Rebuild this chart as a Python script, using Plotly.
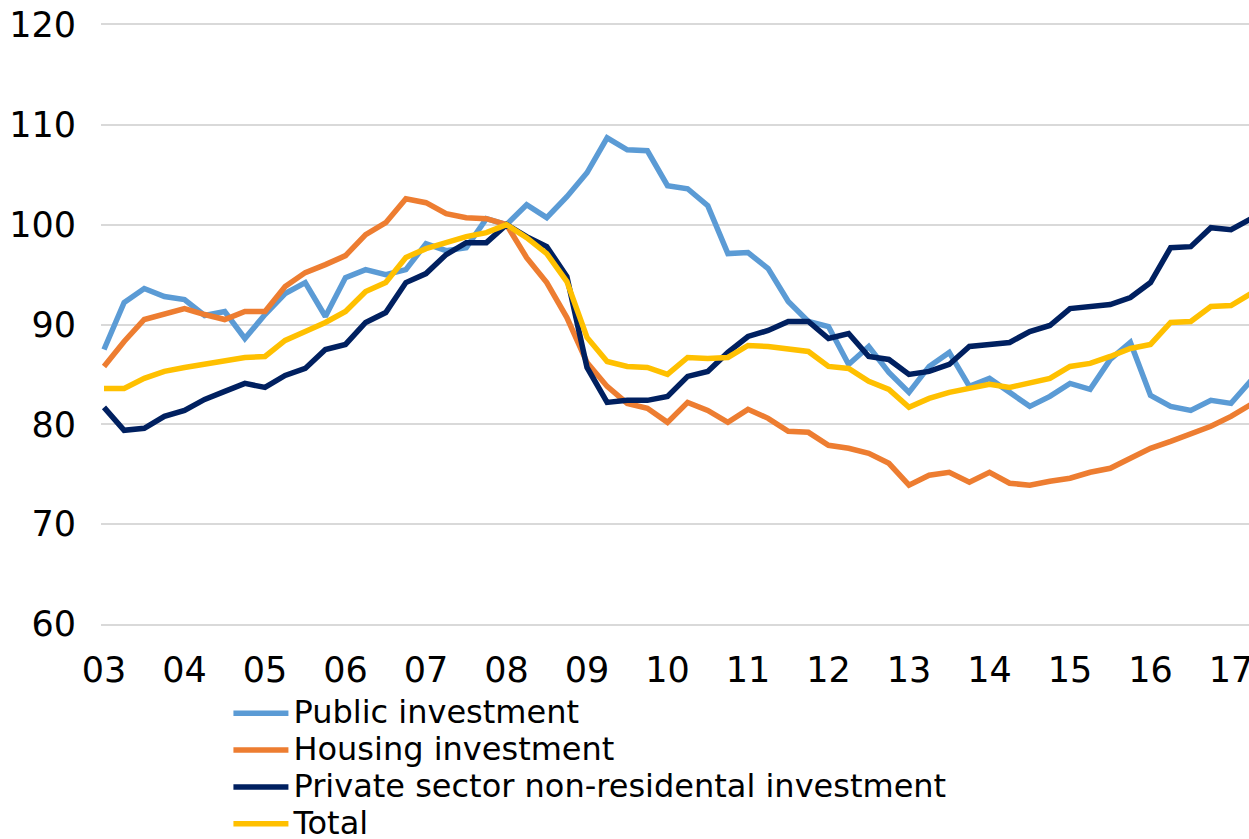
import plotly.graph_objects as go

# quarterly index, 2008Q1 = 100, from 2003Q1 to 2017Q2
years = list(range(2003, 2018))
tick_labels = ["03", "04", "05", "06", "07", "08", "09", "10", "11", "12", "13", "14", "15", "16", "17"]

public = [87.5, 92.2, 93.6, 92.8, 92.5, 90.9, 91.3, 88.6, 91.0, 93.1, 94.2, 90.8,
          94.7, 95.5, 95.0, 95.5, 98.1, 97.4, 97.7, 100.6, 100.0, 102.0, 100.7, 102.8,
          105.2, 108.7, 107.5, 107.4, 103.9, 103.6, 101.9, 97.1, 97.2, 95.6, 92.3, 90.3,
          89.8, 86.0, 87.8, 85.2, 83.2, 85.8, 87.2, 83.8, 84.6, 83.2, 81.8, 82.8,
          84.1, 83.5, 86.5, 88.2, 82.9, 81.8, 81.4, 82.4, 82.1, 84.4]

housing = [85.8, 88.3, 90.5, 91.1, 91.6, 91.0, 90.5, 91.3, 91.3, 93.8, 95.2, 96.0,
           96.9, 99.0, 100.2, 102.6, 102.2, 101.1, 100.7, 100.6, 100.0, 96.7, 94.2, 90.7,
           86.2, 83.8, 82.1, 81.6, 80.2, 82.2, 81.4, 80.2, 81.5, 80.6, 79.3, 79.2,
           77.9, 77.6, 77.1, 76.1, 73.9, 74.9, 75.2, 74.2, 75.2, 74.1, 73.9, 74.3,
           74.6, 75.2, 75.6, 76.6, 77.6, 78.3, 79.0, 79.8, 80.8, 82.0]

private = [81.7, 79.4, 79.6, 80.8, 81.4, 82.5, 83.3, 84.1, 83.7, 84.9, 85.6, 87.5,
           88.0, 90.2, 91.2, 94.2, 95.1, 97.0, 98.2, 98.2, 100.0, 98.8, 97.8, 94.8,
           85.7, 82.2, 82.4, 82.4, 82.8, 84.8, 85.3, 87.2, 88.8, 89.4, 90.3, 90.3,
           88.6, 89.1, 86.8, 86.5, 85.0, 85.3, 86.0, 87.8, 88.0, 88.2, 89.3, 89.9,
           91.6, 91.8, 92.0, 92.7, 94.2, 97.7, 97.8, 99.7, 99.5, 100.6]

total = [83.6, 83.6, 84.6, 85.3, 85.7, 86.0, 86.4, 86.7, 86.8, 88.4, 89.3, 90.2,
         91.3, 93.3, 94.2, 96.7, 97.6, 98.2, 98.8, 99.2, 100.0, 98.7, 97.1, 94.3,
         88.7, 86.3, 85.8, 85.7, 85.0, 86.7, 86.6, 86.7, 87.9, 87.8, 87.5, 87.3,
         85.8, 85.6, 84.3, 83.5, 81.7, 82.6, 83.2, 83.6, 84.0, 83.7, 84.1, 84.6,
         85.8, 86.1, 86.8, 87.6, 88.0, 90.2, 90.3, 91.8, 91.9, 93.1]

# quarter positions as fractional years
x = [2003 + i / 4 for i in range(len(total))]

series = [
    ("Public investment", public, "#5B9BD5"),
    ("Housing investment", housing, "#ED7D31"),
    ("Private sector non-residental investment", private, "#002060"),
    ("Total", total, "#FFC000"),
]

fig = go.Figure()
for name, vals, col in series:
    # bigger text inside a smaller legend font keeps the rows tight
    fig.add_trace(go.Scatter(x=x, y=vals, mode="lines",
                             name='<span style="font-size:32px">' + name + '</span>',
                             line=dict(color=col, width=5.5)))

fig.update_layout(
    width=1249, height=839,
    margin=dict(l=101, r=0, t=25, b=215, autoexpand=False),
    plot_bgcolor="white", paper_bgcolor="white",
    font=dict(family="DejaVu Sans", size=35, color="black"),
    showlegend=True,
    legend=dict(orientation="v", x=0.111, y=-0.110, xanchor="left", yanchor="top",
                font=dict(size=26), bgcolor="rgba(0,0,0,0)", itemwidth=55,
                tracegroupgap=0),
)
fig.update_xaxes(range=[2002.9627, 2017.2236], tickvals=years, ticktext=tick_labels,
                 showgrid=False, zeroline=False, ticks="",
                 showline=True, linecolor="#D9D9D9", linewidth=1.5, mirror=True,
                 ticklabelstandoff=14, ticklabeloverflow="allow")
fig.update_yaxes(range=[60, 120], dtick=10, gridcolor="#D9D9D9", gridwidth=1.5,
                 showline=False, zeroline=False, ticks="", ticklabelstandoff=24)

fig.write_html("out.html", config={"displayModeBar": False},
               post_script="document.body.style.margin='0';")
